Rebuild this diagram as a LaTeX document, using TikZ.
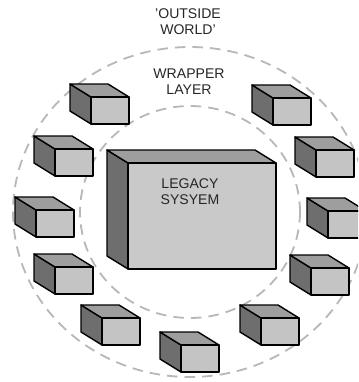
\documentclass[tikz,border=0pt]{standalone}
\usepackage{fontspec}
\setmainfont{Liberation Sans}
\usetikzlibrary{calc}

\tikzset{
  ring/.style={draw=black!28, line width=1.3pt, dash pattern=on 7.5pt off 5pt},
  face/.style={draw=black, line width=1pt, line join=round},
  frontface/.style={face, fill=black!23},
  topface/.style={face, fill=black!38},
  sideface/.style={face, fill=black!57},
  caption/.style={font=\fontsize{10}{11.5}\selectfont, text=black!85, align=center, inner sep=0pt}
}

\begin{document}
\begin{tikzpicture}[x=0.025cm, y=-0.025cm]
    \clip (0,0) rectangle (358,382);

    % the two dashed rings
    \coordinate (centre) at (190,212);
    \draw[ring] (centre) ellipse [x radius=177, y radius=165];
    \draw[ring] (centre) ellipse [x radius=110, y radius=106];

    \node[caption] (outside) at (188,22) {'OUTSIDE\\WORLD'};
    \node[caption] (wrapper) at (189,82) {WRAPPER\\LAYER};

    % small wrapper boxes, given by the top left corner of the front face
    \foreach \bx/\by in {91/97, 273/98, 55/149, 316/150, 36/210, 328/211,
                         55/267, 311/268, 102/318, 261/318, 181/345}{
      \draw[sideface] (\bx,\by) -- ({\bx-21},{\by-13}) -- ({\bx-21},{\by+14}) -- (\bx,{\by+27}) -- cycle;
      \draw[topface] (\bx,\by) -- ({\bx-21},{\by-13}) -- ({\bx+17},{\by-13}) -- ({\bx+38},\by) -- cycle;
      \draw[frontface] (\bx,\by) rectangle ({\bx+38},{\by+27});
    }

    % legacy system in the middle
    \coordinate (A) at (128,163);
    \coordinate (B) at (276,163);
    \coordinate (C) at (276,269);
    \coordinate (D) at (128,269);
    \draw[sideface] (A) -- ($(A)+(-21,-13)$) -- ($(D)+(-21,-13)$) -- (D) -- cycle;
    \draw[topface] (A) -- ($(A)+(-21,-13)$) -- ($(B)+(-21,-13)$) -- (B) -- cycle;
    \draw[frontface, fill=black!21] (A) -- (B) -- (C) -- (D) -- cycle;

    \node[caption] (legacy) at (190,192) {LEGACY\\SYSYEM};
\end{tikzpicture}
\end{document}
